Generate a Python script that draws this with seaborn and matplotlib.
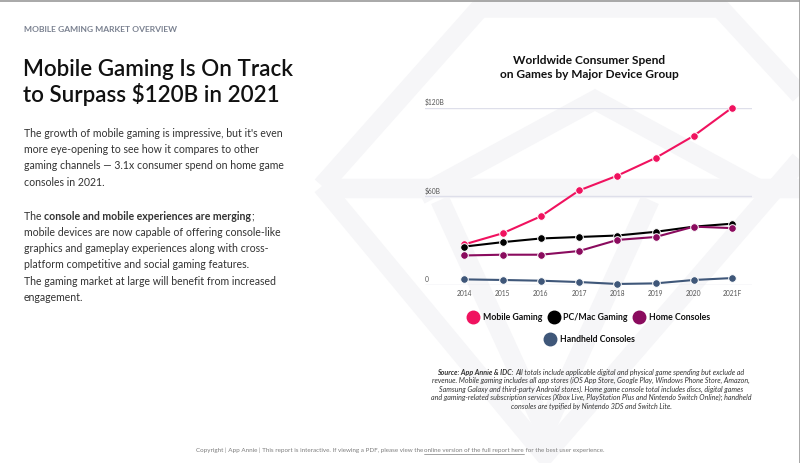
import numpy as np
import pandas as pd
import matplotlib.pyplot as plt
from matplotlib.lines import Line2D
import seaborn as sns

# Chart data (US$ billions)
years = ['2014', '2015', '2016', '2017', '2018', '2019', '2020', '2021F']
mobile = [27.5, 35, 46.5, 64, 74, 86, 101, 120]
pc_mac = [26, 29, 31.5, 32.5, 33.5, 36, 39.5, 41.5]
home = [20, 20.5, 20.5, 23, 30.5, 32.5, 39.5, 38.5]
handheld = [3.8, 3.4, 2.9, 2.0, 0.7, 1.1, 3.4, 4.7]

series_names = ['Mobile Gaming', 'PC/Mac Gaming', 'Home Consoles', 'Handheld Consoles']
series_colors = ['#f0125f', '#000000', '#8a0b5e', '#3f5779']
y_ticks = [0, 60, 120]
y_tick_labels = ['0', '$60B', '$120B']

sns.set_style("white")
plt.rcParams['font.family'] = ['Lato', 'DejaVu Sans']

W, H = 800, 463
fig = plt.figure(figsize=(W / 100, H / 100), dpi=100)
fig.patch.set_facecolor('white')


def fx(px):
    return px / W


def fy(py):
    return 1 - py / H


# faint watermark gem in the background
bg = fig.add_axes([0, 0, 1, 1], zorder=-5)
bg.set_xlim(0, W)
bg.set_ylim(H, 0)
bg.axis('off')
wm = dict(color='#f6f6f8', lw=14, solid_capstyle='butt', solid_joinstyle='miter')
bg.plot([322, 480, 720, 800], [186, 8, 8, 95], **wm)
bg.plot([322, 545, 800], [186, 455, 160], **wm)
bg.plot([420, 595, 770], [195, 100, 195], **wm)
bg.plot([440, 545, 650], [200, 430, 200], **wm)
bg.plot([330, 800], [188, 188], **wm)
# page border lines
bg.plot([0, W], [0.5, 0.5], color='#9a9a9a', lw=1.2)
bg.plot([W - 0.5, W - 0.5], [0, H], color='#9a9a9a', lw=1.2)

# ---- left column text ----
fig.text(fx(24), fy(30), 'MOBILE GAMING MARKET OVERVIEW', fontsize=6.1,
         fontweight='bold', color='#7a8190', va='center')
fig.text(fx(23), fy(69), 'Mobile Gaming Is On Track', fontsize=16.1,
         fontweight='semibold', color='#111111', va='center')
fig.text(fx(23), fy(95), 'to Surpass $120B in 2021', fontsize=16.1,
         fontweight='semibold', color='#111111', va='center')

renderer = fig.canvas.get_renderer()


def advance(txt, **kw):
    # width of a run including spaces: measure between two bars
    a = fig.text(0, 0, '|' + txt + '|', **kw)
    b = fig.text(0, 0, '||', **kw)
    w = a.get_window_extent(renderer).width - b.get_window_extent(renderer).width
    a.remove()
    b.remove()
    return w


def draw_runs(x_px, y_px, runs, size, color, style='normal', center=False):
    # runs share one baseline; y_px is the visual middle of the line
    base = y_px + 0.36 * size * 100 / 72
    texts, widths = [], []
    for txt, weight in runs:
        kw = dict(fontsize=size, fontweight=weight, fontstyle=style)
        widths.append(advance(txt, **kw))
        t = fig.text(0, fy(base), txt, color=color, va='baseline', ha='left', **kw)
        texts.append(t)
    x = x_px - sum(widths) / 2 if center else x_px
    for t, w in zip(texts, widths):
        t.set_x(fx(x))
        x += w
    return texts, widths


body1 = ["The growth of mobile gaming is impressive, but it's even",
         "more eye-opening to see how it compares to other",
         "gaming channels \u2014 3.1x consumer spend on home game",
         "consoles in 2021."]
for i, line in enumerate(body1):
    draw_runs(24, 133 + i * 16.3, [(line, 'normal')], 7.6, '#333333')

body2 = [[("The ", 'normal'), ("console and mobile experiences are merging", 'bold'), (";", 'normal')],
         [("mobile devices are now capable of offering console-like", 'normal')],
         [("graphics and gameplay experiences along with cross-", 'normal')],
         [("platform competitive and social gaming features.", 'normal')],
         [("The gaming market at large will benefit from increased", 'normal')],
         [("engagement.", 'normal')]]
for i, runs in enumerate(body2):
    draw_runs(24, 216 + i * 16.2, runs, 7.6, '#333333')

# ---- chart ----
fig.text(fx(589), fy(61), 'Worldwide Consumer Spend', fontsize=8.6,
         fontweight='bold', color='#111111', ha='center', va='center')
fig.text(fx(589), fy(75), 'on Games by Major Device Group', fontsize=8.6,
         fontweight='bold', color='#111111', ha='center', va='center')

ax = fig.add_axes([fx(425), fy(285), (752 - 425) / W, (285 - 107.7) / H])
ax.patch.set_alpha(0)

df = pd.DataFrame({
    'Pos': list(range(len(years))) * 4,
    'Spend': mobile + pc_mac + home + handheld,
    'Device': np.repeat(series_names, len(years)),
})
for name, color in zip(series_names, series_colors):
    sub = df[df['Device'] == name]
    sns.lineplot(data=sub, x='Pos', y='Spend', ax=ax, color=color,
                 marker='o', markersize=5.5, markeredgecolor='white',
                 markeredgewidth=0.7, lw=1.5, clip_on=False, zorder=3)

for v, lab in zip(y_ticks, y_tick_labels):
    ax.axhline(v, color='#dedfea', lw=1.0, zorder=1)
    ax.text(-1.03, v + 1.2, lab, fontsize=4.8, color='#555555',
            ha='left', va='bottom')
for i, yr in enumerate(years):
    ax.text(i, -5.6, yr, fontsize=4.8, color='#555555', ha='center', va='center')

ax.set_xlim(-1.03, 7.52)
ax.set_ylim(0, 120)
ax.set_xlabel('')
ax.set_ylabel('')
ax.set_xticks([])
ax.set_yticks([])
sns.despine(ax=ax, left=True, bottom=True)

# legend (two rows, centered)
handles = [Line2D([], [], ls='none', marker='o', markersize=9,
                  markerfacecolor=c, markeredgecolor=c) for c in series_colors]
leg_kw = dict(loc='center', frameon=False, prop={'size': 6.3, 'weight': 'bold'},
              handletextpad=0.5, columnspacing=0.7, handlelength=1.2)
leg1 = fig.legend(handles[:3], series_names[:3], ncol=3,
                  bbox_to_anchor=(fx(589), fy(318)), **leg_kw)
leg2 = fig.legend(handles[3:], series_names[3:],
                  bbox_to_anchor=(fx(590), fy(340)), **leg_kw)
for leg in (leg1, leg2):
    for t in leg.get_texts():
        t.set_color('#111111')

# source note
src_color = '#333333'
draw_runs(591, 372, [("Source: App Annie & IDC: ", 'bold'),
                     ("All totals include applicable digital and physical game spending but exclude ad", 'normal')],
          5.1, src_color, style='italic', center=True)
src_lines = ["revenue. Mobile gaming includes all app stores (iOS App Store, Google Play, Windows Phone Store, Amazon,",
             "Samsung Galaxy and third-party Android stores). Home game console total includes discs, digital games",
             "and gaming-related subscription services (Xbox Live, PlayStation Plus and Nintendo Switch Online); handheld",
             "consoles are typified by Nintendo 3DS and Switch Lite."]
for i, line in enumerate(src_lines):
    draw_runs(591, 380.6 + i * 8.5, [(line, 'normal')], 5.1, src_color,
              style='italic', center=True)

# footer with underlined link text
texts, widths = draw_runs(400, 450, [("Copyright | App Annie | This report is interactive. If viewing a PDF, please view the ", 'normal'),
                                     ("online version of the full report here", 'normal'),
                                     (" for the best user experience.", 'normal')],
                          4.5, '#7d7d7d', center=True)
link_x0 = texts[1].get_position()[0] * W
link_x1 = link_x0 + widths[1]
bg.plot([link_x0, link_x1], [453.5, 453.5], color='#7d7d7d', lw=0.5)

fig.savefig('out.png', dpi=100, facecolor='white')
